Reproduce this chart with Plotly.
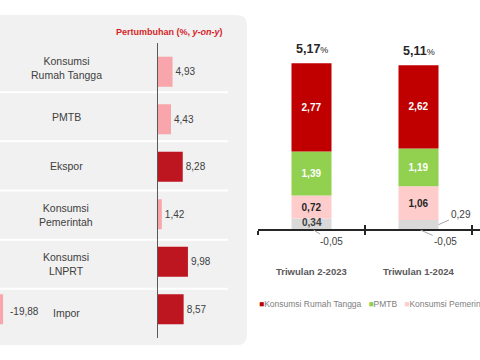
import plotly.graph_objects as go

# ---------------- data ----------------
components = ["Konsumsi<br>Rumah Tangga", "PMTB", "Ekspor", "Konsumsi<br>Pemerintah", "Konsumsi<br>LNPRT", "Impor"]
growth = [4.93, 4.43, 8.28, 1.42, 9.98, 8.57]
growth_colors = ["#F8A6AB", "#F8A6AB", "#BE1621", "#F8A6AB", "#BE1621", "#BE1621"]
cropped_category = "Impor"
cropped_value = -19.88

quarters = ["Triwulan 2-2023", "Triwulan 1-2024"]
totals = [5.17, 5.11]
series_names = ["Konsumsi Rumah Tangga", "PMTB", "Konsumsi Pemerintah", "Lainnya", "Net Ekspor"]
series_values = [
    [2.77, 2.62],
    [1.39, 1.19],
    [0.72, 1.06],
    [0.34, 0.29],
    [-0.05, -0.05],
]
series_colors = ["#C00000", "#92D050", "#FFCCCC", "#D9D9D9", "#FFC000"]
series_text_colors = ["white", "white", "#262626", "#404040", "#404040"]
stack_order = [3, 2, 1, 0, 4]  # bottom -> top
# "inside" = bar text, "center" = centred annotation, "leader" = outside with leader line
label_mode = [
    ["inside", "inside"],
    ["inside", "inside"],
    ["inside", "inside"],
    ["center", "leader"],
    ["leader", "leader"],
]
leader_offsets = {(3, 1): (22, -10), (4, 0): (18, 11), (4, 1): (25, 11)}

FONT = "Liberation Sans, Arial, sans-serif"
W, H = 480, 360


def px(x):
    return x / W


def py(y):
    return 1 - y / H


def fmt(v):
    return f"{v:.2f}".replace(".", ",")


fig = go.Figure()

# ---------------- left panel ----------------
zero_px, unit_px = 157.5, 3.05
x_left, x_right = 140, 245
fig.add_trace(go.Bar(
    y=components, x=growth, orientation="h",
    marker=dict(color=growth_colors, line=dict(width=0)),
    width=0.632,
    texttemplate="%{x:.2f}", textposition="outside", cliponaxis=False,
    textfont=dict(family=FONT, size=10, color="#404040"),
    xaxis="x", yaxis="y", showlegend=False, hoverinfo="skip",
))
fig.add_trace(go.Bar(
    y=[cropped_category], x=[cropped_value], orientation="h",
    marker=dict(color="#F8A6AB", line=dict(width=0)), width=0.632,
    xaxis="x3", yaxis="y", showlegend=False, hoverinfo="skip",
))

# ---------------- right panel ----------------
bar_w = 0.374
for i in stack_order:
    vals = series_values[i]
    texts = [fmt(v) if label_mode[i][j] == "inside" else "" for j, v in enumerate(vals)]
    fig.add_trace(go.Bar(
        x=list(range(len(quarters))), y=vals, name=series_names[i],
        marker=dict(color=series_colors[i], line=dict(width=0)), width=bar_w,
        text=texts, textposition="inside", insidetextanchor="middle", textangle=0,
        textfont=dict(family=FONT, size=10, color=series_text_colors[i], weight="bold"),
        xaxis="x2", yaxis="y2", showlegend=False, hoverinfo="skip",
    ))


def seg_base(i, j):
    v = series_values[i][j]
    below = stack_order[:stack_order.index(i)]
    return sum(series_values[k][j] for k in below if (series_values[k][j] > 0) == (v > 0))


annotations = []
# title
annotations.append(dict(
    xref="paper", yref="paper", x=px(169), y=py(32), xanchor="center", yanchor="middle",
    showarrow=False, text="<b>Pertumbuhan (%, <i>y-on-y</i>)</b>",
    font=dict(family=FONT, size=9, color="#D51F2A"),
))
# category labels (left)
for k, c in enumerate(components):
    annotations.append(dict(
        xref="paper", yref="y3", x=px(66), y=k, xanchor="center", yanchor="middle",
        showarrow=False, text=c,
        font=dict(family=FONT, size=10.5, color="#404040"),
    ))
# cropped value label
annotations.append(dict(
    xref="x3", yref="y", x=0, y=cropped_category, showarrow=False,
    xanchor="left", xshift=5, yshift=-2, text=fmt(cropped_value),
    font=dict(family=FONT, size=10, color="#404040"),
))
# totals
for j, t in enumerate(totals):
    top = sum(v[j] for v in series_values if v[j] > 0)
    annotations.append(dict(
        xref="x2", yref="y2", x=j, y=top, yanchor="bottom", yshift=5, showarrow=False,
        text=f"<b>{fmt(t)}</b><span style='font-size:9px'>%</span>",
        font=dict(family=FONT, size=12.5, color="#262626"),
    ))
# centred / leader-line labels
for i in range(len(series_values)):
    for j, v in enumerate(series_values[i]):
        mode = label_mode[i][j]
        mid = seg_base(i, j) + v / 2
        if mode == "center":
            annotations.append(dict(
                xref="x2", yref="y2", x=j, y=mid, yshift=1.5, showarrow=False, text=f"<b>{fmt(v)}</b>",
                font=dict(family=FONT, size=10, color=series_text_colors[i]),
            ))
        elif mode == "leader":
            ax, ay = leader_offsets[(i, j)]
            xh = j + (bar_w / 2 if v > 0 else 0.02)
            annotations.append(dict(
                xref="x2", yref="y2", x=xh, y=mid, text=fmt(v),
                showarrow=True, arrowhead=0, arrowwidth=1, arrowcolor="#A6A6A6",
                ax=ax, ay=ay, font=dict(family=FONT, size=10, color="#404040"),
            ))
# quarter labels
for j, q in enumerate(quarters):
    annotations.append(dict(
        xref="x2", yref="paper", x=j, y=py(271), yanchor="middle", showarrow=False,
        text=f"<b>{q}</b>", font=dict(family=FONT, size=9.5, color="#595959"),
    ))
# legend (text)
legend_parts = [
    f"<span style='color:{c}'>■</span>{n}" for n, c in zip(series_names, series_colors)
]
annotations.append(dict(
    xref="paper", yref="paper", x=px(257), y=py(304), xanchor="left", yanchor="middle",
    showarrow=False, text="&nbsp;&nbsp;&nbsp;".join(legend_parts),
    font=dict(family=FONT, size=8.5, color="#808080"),
))

# ---------------- shapes ----------------
x0, x1, y0, y1, r = -10, 247, 15, 345, 10
panel_path = (
    f"M {px(x0)},{py(y0)} L {px(x1 - r)},{py(y0)} Q {px(x1)},{py(y0)} {px(x1)},{py(y0 + r)} "
    f"L {px(x1)},{py(y1 - r)} Q {px(x1)},{py(y1)} {px(x1 - r)},{py(y1)} L {px(x0)},{py(y1)} Z"
)
shapes = [dict(type="path", xref="paper", yref="paper", path=panel_path,
               fillcolor="#F1F1F1", line=dict(width=0), layer="below")]
for k in range(len(components) - 1):
    shapes.append(dict(type="line", xref="paper", yref="y3", x0=0, x1=px(228), y0=k + 0.5, y1=k + 0.5,
                       line=dict(color="white", width=2), layer="below"))

zero_y_px, yunit = 229.3, 31.8
y2_lo, y2_hi = -0.5, 5.5
dom_y2 = [py(zero_y_px - y2_lo * yunit), py(zero_y_px - y2_hi * yunit)]
x2_dom_left = 258
cat_px = 107
x2_range = [-0.5, -0.5 + (W - x2_dom_left) / cat_px]
zero_pos = py(zero_y_px)
tick_vals = [-0.5, 0.5, 1.5]

fig.update_layout(
    width=W, height=H, margin=dict(l=0, r=0, t=0, b=0),
    paper_bgcolor="white", plot_bgcolor="rgba(0,0,0,0)",
    barmode="relative", separators=",.", showlegend=False,
    font=dict(family=FONT),
    xaxis=dict(domain=[px(x_left), px(x_right)],
               range=[(x_left - zero_px) / unit_px, (x_right - zero_px) / unit_px],
               showgrid=False, showticklabels=False, zeroline=True,
               zerolinecolor="#595959", zerolinewidth=1, fixedrange=True),
    yaxis=dict(domain=[py(333), py(48)], autorange="reversed", showgrid=False,
               showticklabels=False, ticks="", anchor="x", fixedrange=True),
    xaxis3=dict(domain=[0, px(3.3)], range=[-1, 0], visible=False, anchor="y"),
    yaxis3=dict(domain=[py(338), py(43)], range=[len(components) - 0.5, -0.5],
                visible=False, anchor="free", position=0),
    xaxis2=dict(domain=[px(x2_dom_left), 1], range=x2_range, anchor="free", position=zero_pos,
                showgrid=False, zeroline=False, showline=True, linecolor="#262626", linewidth=1.5,
                tickmode="array", tickvals=tick_vals, ticks="outside", ticklen=4,
                tickwidth=1.5, tickcolor="#262626", showticklabels=False),
    xaxis4=dict(domain=[px(x2_dom_left), 1], range=x2_range, anchor="free", position=zero_pos,
                overlaying="x2", showgrid=False, zeroline=False, showline=False,
                tickmode="array", tickvals=tick_vals, ticks="inside", ticklen=4,
                tickwidth=1.5, tickcolor="#262626", showticklabels=False),
    yaxis2=dict(domain=dom_y2, range=[y2_lo, y2_hi], visible=False, anchor="x2"),
    annotations=annotations, shapes=shapes,
)
# invisible trace so the overlaying tick axis renders
fig.add_trace(go.Scatter(x=[0], y=[0], xaxis="x4", yaxis="y2", mode="markers",
                         marker=dict(opacity=0), showlegend=False, hoverinfo="skip"))

fig.write_html(
    "out.html",
    config={"displayModeBar": False, "staticPlot": True},
    post_script="document.body.style.margin='0px';document.body.style.overflow='hidden';",
)
